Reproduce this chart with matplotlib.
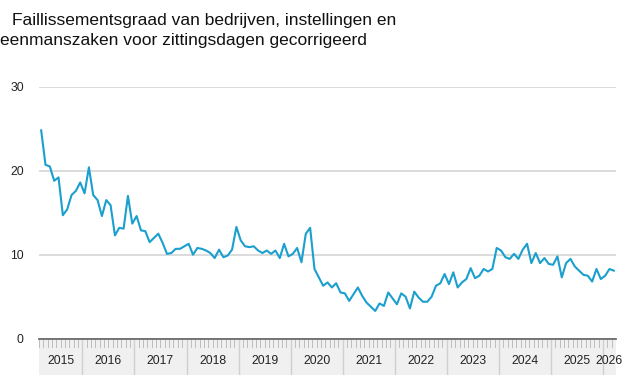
import pandas as pd
import matplotlib.pyplot as plt

plt.rcParams['font.family'] = ['Liberation Sans', 'DejaVu Sans']

# Data: monthly bankruptcy rate, March 2015 - March 2026
start_month = '2015-03'
values = [
    24.8, 20.7, 20.5, 18.8, 19.2, 14.7, 15.4, 17.1, 17.6, 18.6,
    17.3, 20.4, 17.1, 16.5, 14.6, 16.5, 15.9, 12.3, 13.2, 13.1, 17.0, 13.7,
    14.6, 12.9, 12.8, 11.5, 12.0, 12.5, 11.4, 10.1, 10.2, 10.7, 10.7, 11.0,
    11.3, 10.0, 10.8, 10.7, 10.5, 10.2, 9.6, 10.6, 9.7, 9.9, 10.6, 13.3,
    11.7, 11.0, 10.9, 11.0, 10.5, 10.2, 10.5, 10.1, 10.5, 9.6, 11.3, 9.8,
    10.1, 10.8, 9.1, 12.5, 13.2, 8.3, 7.3, 6.3, 6.7, 6.1, 6.6, 5.5,
    5.4, 4.5, 5.3, 6.1, 5.1, 4.3, 3.8, 3.3, 4.2, 3.9, 5.5, 4.8,
    4.1, 5.4, 5.0, 3.6, 5.6, 4.9, 4.4, 4.4, 5.0, 6.3, 6.6, 7.7,
    6.5, 7.9, 6.1, 6.7, 7.1, 8.4, 7.2, 7.5, 8.3, 8.0, 8.3, 10.8,
    10.5, 9.7, 9.5, 10.1, 9.5, 10.6, 11.3, 9.0, 10.2, 9.0, 9.6, 8.9,
    8.8, 9.8, 7.3, 9.0, 9.5, 8.6, 8.1, 7.6, 7.5, 6.8, 8.3, 7.1,
    7.5, 8.3, 8.1,
]
y_ticks = [0, 10, 20, 30]
title_lines = ['Faillissementsgraad van bedrijven, instellingen en',
               'eenmanszaken voor zittingsdagen gecorrigeerd']

months = pd.date_range(start_month, periods=len(values), freq='MS')
n = len(values)
x = list(range(n))

W, H = 626, 377
fig = plt.figure(figsize=(W / 100, H / 100), dpi=100)

# Main plot area
ax = fig.add_axes([39 / W, 1 - 338.7 / H, 577 / W, (338.7 - 86.7) / H])
ax.plot(x, values, color='#1a9fce', lw=1.5, zorder=3)
ax.set_xlim(-0.5, n - 0.5)
ax.set_ylim(0, 30)
ax.set_yticks(y_ticks)
ax.set_xticks([])
ax.grid(axis='y', color='#d9d9d9', lw=1.3)
ax.set_axisbelow(True)
for s in ['top', 'right', 'left']:
    ax.spines[s].set_visible(False)
ax.spines['bottom'].set_color('#6b6b6b')
ax.spines['bottom'].set_linewidth(1.3)
ax.tick_params(axis='y', length=0, pad=11, labelsize=8.7, labelcolor='#222222')

# Grey date band under the axis
band = fig.add_axes([39 / W, 1 - 375 / H, 577 / W, (375 - 339.5) / H])
band.set_facecolor('#f0f0f0')
band.set_xlim(-0.5, n - 0.5)
band.set_ylim(0, 1)
band.set_xticks([])
band.set_yticks([])
for s in band.spines.values():
    s.set_visible(False)

for i in range(n + 1):
    band.plot([i - 0.5, i - 0.5], [1, 0.8], color='#bdbdbd', lw=0.7)

years = sorted(set(months.year))
for yr in years:
    idx = [i for i, m in enumerate(months) if m.year == yr]
    if idx[0] > 0:
        band.plot([idx[0] - 0.5, idx[0] - 0.5], [1, 0], color='#d0d0d0', lw=1.0)
    mid = (idx[0] - 0.5 + idx[-1] + 0.5) / 2
    band.text(mid, 0.4, str(yr), ha='center', va='center',
              fontsize=8.7, color='#222222')

# Title
fig.text(12 / W, 1 - 25 / H, title_lines[0], fontsize=12.5, color='#111111', va='baseline')
fig.text(0 / W, 1 - 45 / H, title_lines[1], fontsize=12.5, color='#111111', va='baseline')

fig.savefig('out.png', dpi=100)
